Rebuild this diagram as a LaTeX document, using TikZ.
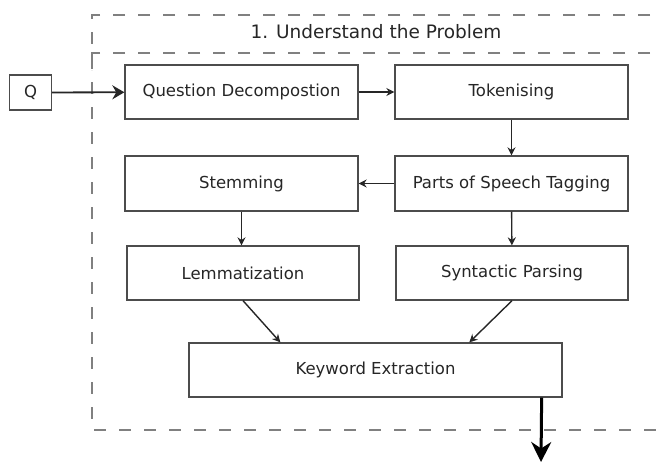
\documentclass[tikz,border=0pt]{standalone}
\usepackage{fontspec}
\setmainfont{DejaVu Sans}
\usetikzlibrary{arrows.meta,calc}
\tikzset{
  proc/.style={draw=black!70, line width=1.3pt, fill=white, minimum width=233pt, minimum height=54pt, inner sep=0pt, font=\fontsize{16.5}{19}\selectfont, text=black!85},
  conn/.style={draw=black!85, line width=1.4pt, -{Stealth[length=8pt,width=8pt]}},
  frame/.style={draw=black!50, line width=1.4pt, dash pattern=on 12pt off 13pt},
}
\begin{document}
\begin{tikzpicture}[x=1pt,y=-1pt]
\useasboundingbox (0,0) rectangle (656,463);
\begin{scope}
\clip (0,0) rectangle (656,463);
\draw[frame] (700,15) -- (92,15) -- (92,430) -- (700,430);
\draw[frame] (700,53) -- (92,53) -- (92,70);
\end{scope}
\node[font=\fontsize{18.5}{21}\selectfont, text=black!85] (title) at (376,32) {1. Understand the Problem};
\node[proc, minimum width=42pt, minimum height=35pt] (q) at (30.5,92.5) {Q};
\node[proc] (qd) at (241.5,92) {Question Decompostion};
\node[proc] (tok) at (511.5,92) {Tokenising};
\node[proc, minimum height=55pt] (stem) at (241.5,183.5) {Stemming};
\node[proc, minimum height=55pt] (pos) at (511.5,183.5) {Parts of Speech Tagging};
\node[proc, minimum width=232pt] (lem) at (243,273) {Lemmatization};
\node[proc, minimum width=232pt] (syn) at (512,273) {Syntactic Parsing};
\node[proc, minimum width=373pt] (ke) at (375.5,370) {Keyword Extraction};
\coordinate (keinl) at ($(ke.north west)+(92,0)$);
\coordinate (keinr) at ($(ke.north west)+(281,0)$);
\coordinate (keout) at ($(ke.south east)+(-21,0)$);
\coordinate (outend) at (541,462);
\draw[conn, line width=1.8pt, -{Stealth[length=12pt,width=14pt]}] (q) -- (qd);
\draw[conn] (qd) -- (tok);
\draw[conn] (tok) -- (pos);
\draw[conn] (pos) -- (stem);
\draw[conn] (stem) -- (stem |- lem.north);
\draw[conn] (pos) -- (syn);
\draw[conn] (lem.south) -- (keinl);
\draw[conn] (syn.south) -- (keinr);
\draw[conn, draw=black, line width=3pt, -{Stealth[length=20pt,width=20pt]}] (keout) -- (outend);
\end{tikzpicture}
\end{document}
